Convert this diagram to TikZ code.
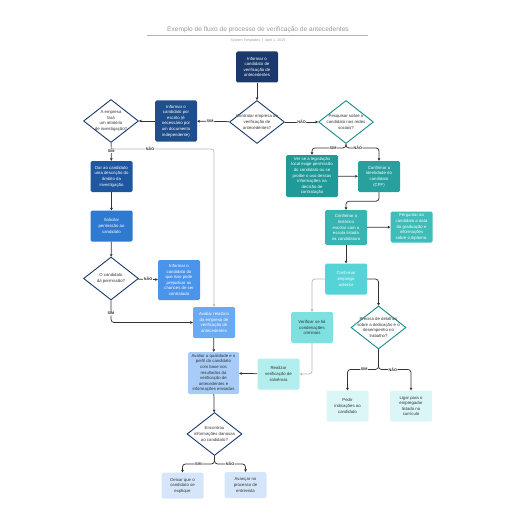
\documentclass[tikz,border=0pt]{standalone}
\usepackage{fontspec}
\setmainfont{Liberation Sans}
\usetikzlibrary{shapes.geometric,arrows.meta}
\definecolor{navyA}{HTML}{1B3A6B}
\definecolor{navyB}{HTML}{1F4E8C}
\definecolor{navyC}{HTML}{1F56A0}
\definecolor{blueA}{HTML}{3079D0}
\definecolor{blueB}{HTML}{4A94EC}
\definecolor{blueC}{HTML}{6AAAF2}
\definecolor{blueD}{HTML}{A6CCF7}
\definecolor{blueE}{HTML}{D5E6FB}
\definecolor{tealA}{HTML}{1F9A98}
\definecolor{tealB}{HTML}{27A09E}
\definecolor{tealC}{HTML}{37B5B3}
\definecolor{tealD}{HTML}{3FBDB8}
\definecolor{tealE}{HTML}{55D3D6}
\definecolor{tealF}{HTML}{7FE0E0}
\definecolor{tealG}{HTML}{B2EEEE}
\definecolor{tealH}{HTML}{DAF6F6}
\definecolor{tealline}{HTML}{1B8A8C}
\definecolor{inkgray}{HTML}{333333}
\tikzset{
  box/.style={rectangle, rounded corners=1.5pt, minimum width=42pt, minimum height=31pt,
    inner sep=0.5pt, align=center, text=white, font=\fontsize{4.3}{5.6}\selectfont},
  darkbox/.style={box, text=inkgray},
  decision/.style={diamond, draw=navyA, line width=0.9pt, fill=white,
    minimum width=55pt, minimum height=43pt, inner sep=0pt},
  dtext/.style={align=center, text=inkgray, font=\fontsize{4.3}{5.6}\selectfont, inner sep=0pt},
  line/.style={draw=inkgray, line width=0.75pt, rounded corners=3pt,
    -{Triangle[length=2.4pt,width=2.6pt]}},
  paleline/.style={line, draw=gray!55},
  lbl/.style={fill=white, text=inkgray, inner sep=0.6pt, font=\fontsize{3.8}{4}\selectfont\bfseries}
}
\begin{document}
\begin{tikzpicture}[x=1pt, y=-1pt]
\useasboundingbox (0,0) rectangle (516,516);
\node (title) [text=gray!80, font=\fontsize{6.6}{7}\selectfont] at (258,30) {Exemplo de fluxo de processo de verificação de antecedentes};
\draw[gray!60, line width=0.5pt] (147,35.5) -- (368,35.5);
\node (sub) [text=gray!80, font=\fontsize{3.6}{4}\selectfont] at (258,40.5) {System Templates \ | \ April 1, 2015};

\node (inform) [box, fill=navyA] at (257,67) {Informar o\\candidato de\\verificação de\\antecedentes};
\node (hire) [decision] at (257,122) {};
\node at (hire) [dtext] {Contratar empresa de\\verificação de\\antecedentes?};
\node (written) [box, fill=navyB, minimum height=41pt] at (176,121) {Informar o\\candidato por\\escrito (é\\necessário por\\um documento\\independente)};
\node (report) [decision] at (111,121) {};
\node at (report) [dtext] {A empresa\\fará\\um relatório\\de investigação?};
\node (social) [decision, draw=tealline] at (346,122) {};
\node at (social) [dtext] {Pesquisar sobre o\\candidato nas redes\\sociais?};
\node (law) [box, fill=tealA, minimum width=52pt, minimum height=42pt] at (312,176) {Ver se a legislação\\local exige permissão\\do candidato ou se\\proíbe o uso dessas\\informações na\\decisão de\\contratação};
\node (ident) [box, fill=tealB] at (379,176.5) {Confirmar a\\identidade do\\candidato\\(CPF)};
\node (school) [box, fill=tealC, minimum height=35pt] at (346,227.5) {Confirmar o\\histórico\\escolar com a\\escola listada\\na candidatura};
\node (diploma) [box, fill=tealD] at (411.5,227) {Perguntar ao\\candidato a data\\da graduação e\\informações\\sobre o diploma.};
\node (job) [box, fill=tealE] at (346,279) {Confirmar\\emprego\\anterior};
\node (crime) [darkbox, fill=tealF] at (312,327.5) {Verificar se há\\condenações\\criminais};
\node (detail) [decision, draw=tealline] at (378.5,327.5) {};
\node at (detail) [dtext] {Precisa de detalhes\\sobre a dedicação e o\\desempenho no\\trabalho?};
\node (credit) [darkbox, fill=tealG] at (278.5,374) {Realizar\\verificação de\\solvência};
\node (refs) [darkbox, fill=tealH] at (347.5,406) {Pedir\\indicações ao\\candidato};
\node (call) [darkbox, fill=tealH] at (411,406) {Ligar para o\\empregador\\listado no\\currículo};
\node (scope) [box, fill=navyC] at (111.5,176.5) {Dar ao candidato\\uma descrição do\\âmbito da\\investigação};
\node (ask) [box, fill=blueA] at (111.5,226) {Solicitar\\permissão ao\\candidato};
\node (allow) [decision] at (111,278.5) {};
\node at (allow) [dtext] {O candidato\\dá permissão?};
\node (warn) [box, fill=blueB, minimum height=40pt] at (179,280) {Informar o\\candidato do\\que isso pode\\prejudicar as\\chances de ser\\contratado};
\node (review) [box, fill=blueC] at (214,322.5) {Avaliar relatório\\da empresa de\\verificação de\\antecedentes};
\node (assess) [darkbox, fill=blueD, minimum width=51pt, minimum height=42pt] at (213.5,373) {Avaliar a qualidade e o\\perfil do candidato\\com base nos\\resultados da\\verificação de\\antecedentes e\\informações enviadas};
\node (harm) [decision] at (214.5,434) {};
\node at (harm) [dtext] {Encontrou\\informações danosas\\ao candidato?};
\node (explain) [darkbox, fill=blueE, minimum height=26pt] at (182.5,485.5) {Deixar que o\\candidato se\\explique};
\node (next) [darkbox, fill=blueE, minimum height=26pt] at (245.5,485) {Avançar no\\processo de\\entrevista};

\draw[line] (inform) -- (hire);
\draw[line] (hire) -- node[lbl, pos=0.6] {SIM} (written);
\draw[line] (hire) -- node[lbl] {NÃO} (social);
\draw[line] (written) -- (report);
\draw[line] (report) -- node[lbl, pos=0.45] {SIM} (scope);
\draw[paleline] (report.south) -- ++(0,6) -| node[lbl, pos=0.19] {NÃO} (review.north);
\draw[line] (social.south) -- ++(0,4) -| node[lbl, pos=0.19] {SIM} (law.north);
\draw[line] (social.south) -- ++(0,4) -| node[lbl, pos=0.18] {NÃO} (ident.north);
\draw[line] (law) -- (ident);
\draw[line] (ident.south) -- ++(0,9) -| (school.north);
\draw[line] (school) -- (diploma);
\draw[line] (school) -- (job);
\draw[paleline] (job.west) -| (crime.north);
\draw[line] (job.east) -| (detail.north);
\draw[paleline] (crime.south) |- (credit.east);
\draw[line] (credit) -- (assess);
\draw[line] (detail.south) -- ++(0,20) -| node[lbl, pos=0.23] {SIM} (refs.north);
\draw[line] (detail.south) -- ++(0,20) -| node[lbl, pos=0.22] {NÃO} (call.north);
\draw[line] (scope) -- (ask);
\draw[line] (ask) -- (allow);
\draw[line] (allow) -- node[lbl] {NÃO} (warn);
\draw[line] (allow.south) |- node[lbl, pos=0.3] {SIM} (review.west);
\draw[line] (review) -- (assess);
\draw[line] (assess) -- (harm);
\draw[line] (harm.south) -- ++(0,8) -| node[lbl, pos=0.25] {SIM} (explain.north);
\draw[line] (harm.south) -- ++(0,8) -| node[lbl, pos=0.25] {NÃO} (next.north);
\end{tikzpicture}
\end{document}
